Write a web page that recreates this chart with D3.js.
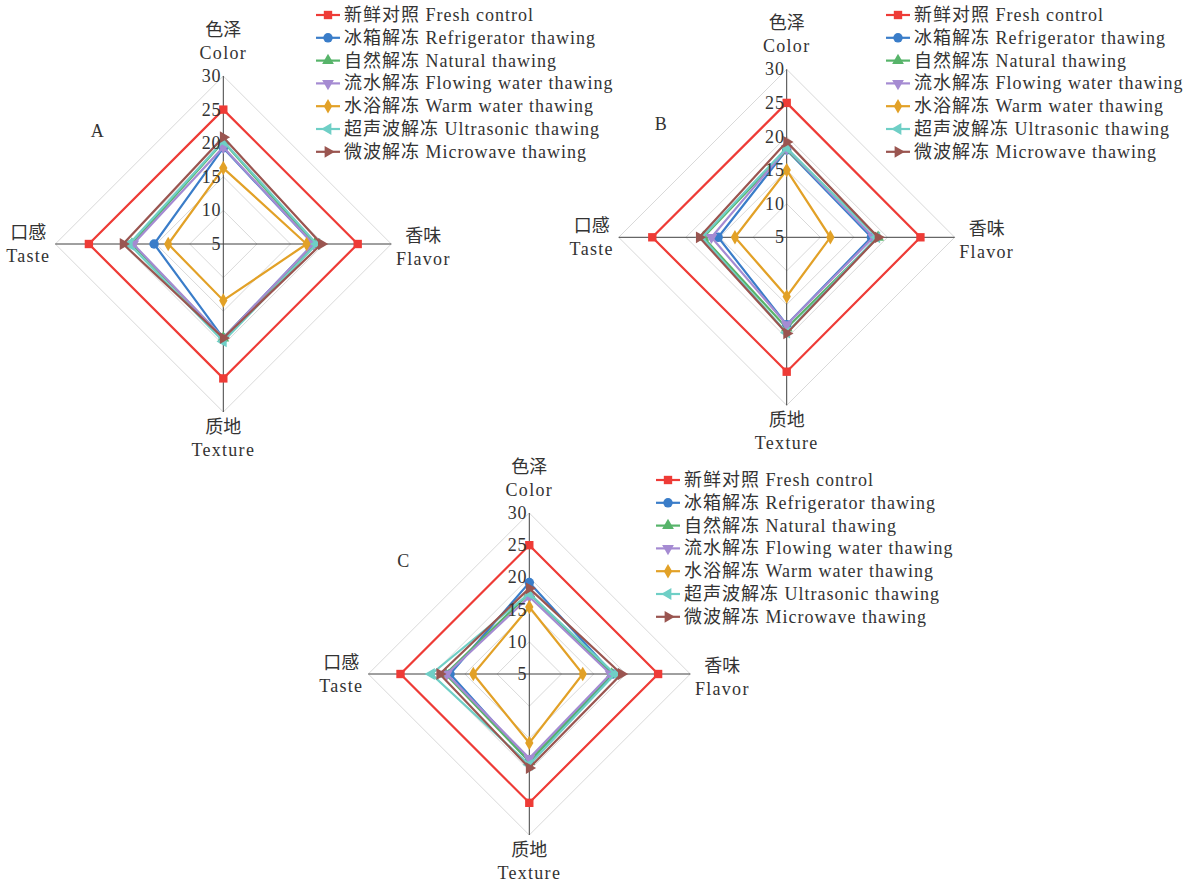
<!DOCTYPE html>
<html>
<head>
<meta charset="utf-8">
<script src="https://cdn.jsdelivr.net/npm/d3@7"></script>
<style>
  html, body { margin: 0; padding: 0; background: #fff; }
  svg { display: block; }
  text { font-family: "Liberation Serif", "Noto Sans CJK SC", serif; fill: #333; }
</style>
</head>
<body>
<svg id="chart" width="1194" height="884"></svg>
<script>
// Sensory attributes, clockwise from the top
const axisZh = ["色泽", "香味", "质地", "口感"];
const axisEn = ["Color", "Flavor", "Texture", "Taste"];

// Thawing treatments
const seriesZh = ["新鲜对照", "冰箱解冻", "自然解冻", "流水解冻", "水浴解冻", "超声波解冻", "微波解冻"];
const seriesEn = ["Fresh control", "Refrigerator thawing", "Natural thawing", "Flowing water thawing",
                  "Warm water thawing", "Ultrasonic thawing", "Microwave thawing"];

// Radial tick labels
const tickValues = [5, 10, 15, 20, 25, 30];

// Scores per treatment: [Color, Flavor, Texture, Taste]
const valuesA = [
  [25.0, 25.0, 25.0, 25.0],
  [19.3, 18.4, 19.0, 15.3],
  [20.2, 18.6, 19.0, 18.6],
  [19.4, 18.4, 19.0, 18.4],
  [16.3, 17.4, 13.4, 13.2],
  [20.3, 18.9, 19.5, 19.0],
  [20.9, 19.6, 19.0, 19.9]
];
const valuesB = [
  [25.0, 24.9, 25.0, 25.0],
  [18.0, 17.6, 18.0, 15.2],
  [18.0, 18.6, 18.5, 17.4],
  [18.2, 17.9, 18.0, 16.2],
  [15.0, 11.5, 13.8, 12.7],
  [18.3, 18.4, 19.2, 17.6],
  [19.2, 18.6, 19.3, 18.0]
];
const valuesC = [
  [25.0, 25.0, 25.0, 25.0],
  [19.2, 18.0, 18.6, 17.3],
  [17.5, 17.8, 18.6, 18.0],
  [17.0, 17.6, 18.1, 17.8],
  [15.4, 13.3, 15.7, 13.7],
  [17.5, 18.3, 19.1, 20.2],
  [18.3, 19.3, 19.6, 18.9]
];

const colors = ["#EE3B36", "#3A7DC9", "#57B46A", "#A58BD2", "#E2A127", "#6FCFC6", "#9A5550"];
// marker shape and rotation for each treatment
const shapes = [
  { type: d3.symbolSquare, rot: 0, size: 70 },
  { type: d3.symbolCircle, rot: 0, size: 70 },
  { type: d3.symbolTriangle, rot: 0, size: 60 },
  { type: d3.symbolTriangle, rot: 180, size: 60 },
  { type: d3.symbolDiamond, rot: 0, size: 60 },
  { type: d3.symbolTriangle, rot: -90, size: 60 },
  { type: d3.symbolTriangle, rot: 90, size: 60 }
];

const svg = d3.select("#chart");

const panels = [
  { id: "A", values: valuesA, cx: 223.3, cy: 244, R: 168, legendX: 316, legendY: 15 },
  { id: "B", values: valuesB, cx: 786.7, cy: 237.3, R: 168, legendX: 886, legendY: 15 },
  { id: "C", values: valuesC, cx: 529.3, cy: 674, R: 161, legendX: 656, legendY: 480 }
];

// angle for each axis: up, right, down, left
const angle = i => i * Math.PI / 2;

panels.forEach(p => {
  const g = svg.append("g").attr("transform", `translate(${p.cx},${p.cy})`);
  const r = d3.scaleLinear().domain([5, 30]).range([0, p.R]);
  const pt = (v, i) => [Math.sin(angle(i)) * r(v), -Math.cos(angle(i)) * r(v)];

  // grid rings
  const radial = d3.lineRadial().curve(d3.curveLinearClosed)
    .angle((d, i) => angle(i)).radius(d => r(d));
  g.append("g").selectAll("path").data(tickValues.filter(t => t > 5)).join("path")
    .attr("d", t => radial(axisZh.map(() => t)))
    .attr("fill", "none").attr("stroke", "#d9d9d9").attr("stroke-width", 1);

  // spokes
  g.append("g").selectAll("line").data(axisZh).join("line")
    .attr("x1", 0).attr("y1", 0)
    .attr("x2", (d, i) => pt(30, i)[0]).attr("y2", (d, i) => pt(30, i)[1])
    .attr("stroke", "#404040").attr("stroke-width", 1);

  // series polygons
  const lineGen = d3.line().curve(d3.curveLinearClosed);
  p.values.forEach((vals, s) => {
    const pts = vals.map((v, i) => pt(v, i));
    g.append("path").attr("d", lineGen(pts))
      .attr("fill", "none").attr("stroke", colors[s]).attr("stroke-width", 2.2)
      .attr("stroke-linejoin", "miter");
    g.append("g").selectAll("path").data(pts).join("path")
      .attr("d", d3.symbol().type(shapes[s].type).size(shapes[s].size))
      .attr("transform", d => `translate(${d[0]},${d[1]}) rotate(${shapes[s].rot})`)
      .attr("fill", colors[s]);
  });

  // radial tick labels
  g.append("g").selectAll("text").data(tickValues).join("text")
    .attr("x", -2).attr("y", t => -r(t))
    .attr("text-anchor", "end").attr("dominant-baseline", "central")
    .attr("font-size", 18).attr("letter-spacing", 0.8)
    .text(t => t);

  // axis titles
  const titlePos = [
    { x: 0, y1: -p.R - 46, y2: -p.R - 23 },
    { x: p.R + 32, y1: -8, y2: 15 },
    { x: 0, y1: p.R + 15, y2: p.R + 38 },
    { x: -p.R - 27, y1: -11, y2: 12 }
  ];
  axisZh.forEach((zh, i) => {
    g.append("text").attr("x", titlePos[i].x).attr("y", titlePos[i].y1)
      .attr("text-anchor", "middle").attr("dominant-baseline", "central")
      .attr("font-size", 18).text(zh);
    g.append("text").attr("x", titlePos[i].x).attr("y", titlePos[i].y2)
      .attr("text-anchor", "middle").attr("dominant-baseline", "central")
      .attr("font-size", 18).attr("letter-spacing", 1.3).text(axisEn[i]);
  });

  // panel letter
  g.append("text").attr("x", -126).attr("y", -113)
    .attr("text-anchor", "middle").attr("dominant-baseline", "central")
    .attr("font-size", 18).text(p.id);

  // legend
  const lg = svg.append("g").attr("transform", `translate(${p.legendX},${p.legendY})`);
  seriesZh.forEach((zh, s) => {
    const row = lg.append("g").attr("transform", `translate(0,${s * 22.8})`);
    row.append("line").attr("x1", 0).attr("x2", 24).attr("y1", 0).attr("y2", 0)
      .attr("stroke", colors[s]).attr("stroke-width", 2.2);
    row.append("path")
      .attr("d", d3.symbol().type(shapes[s].type).size(shapes[s].size))
      .attr("transform", `translate(12,0) rotate(${shapes[s].rot})`)
      .attr("fill", colors[s]);
    row.append("text").attr("x", 28).attr("y", 0)
      .attr("dominant-baseline", "central").attr("font-size", 18)
      .attr("letter-spacing", 1)
      .text(zh + " " + seriesEn[s]);
  });
});
</script>
</body>
</html>
